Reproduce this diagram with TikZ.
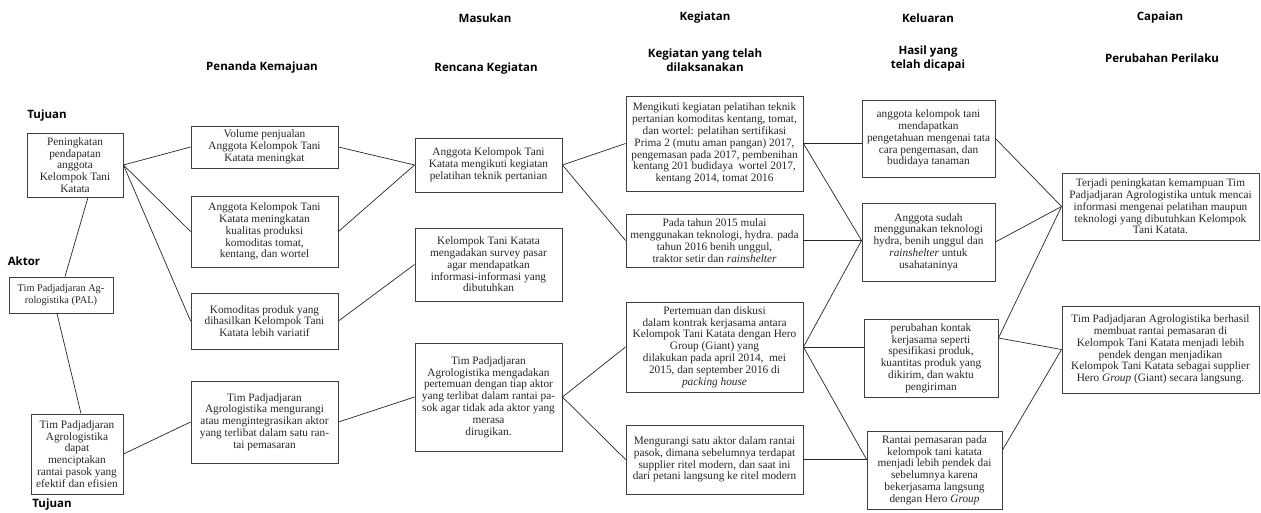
\documentclass[tikz,border=0pt]{standalone}
\usepackage{fontspec}
\setmainfont{Liberation Serif}
\newfontfamily\headfont{Open Sans}
\usetikzlibrary{calc}

\begin{document}
\begin{tikzpicture}[x=1pt,y=-1pt,
    box/.style 2 args={draw=black!75,line width=0.9pt,inner sep=1pt,align=center,
        text=black!85,minimum width=#1,minimum height=#2,
        font=\fontsize{11.3}{11.8}\selectfont},
    head/.style={align=center,font=\headfont\bfseries\fontsize{11.5}{14}\selectfont},
    link/.style={black!85,line width=0.7pt}]
    \useasboundingbox (0,0) rectangle (1261,512);
    % judul kolom
    \node[head] (masukan) at (485,18) {Masukan};
    \node[head] (kegiatan) at (705,18) {Kegiatan};
    \node[head] (keluaran) at (928,18) {Keluaran};
    \node[head] (capaian) at (1160,18) {Capaian};
    \node[head] (penanda) at (262,68) {Penanda Kemajuan};
    \node[head] (rencana) at (486,69) {Rencana Kegiatan};
    \node[head] (laksana) at (705,60) {Kegiatan yang telah\\dilaksanakan};
    \node[head] (hasil) at (928,59) {Hasil yang\\telah dicapai};
    \node[head] (perilaku) at (1162,58) {Perubahan Perilaku};
    \node[head] (tujuanA) at (47,116) {Tujuan};
    \node[head] (aktor) at (24,261) {Aktor};
    \node[head] (tujuanB) at (52,505) {Tujuan};
    % tujuan dan aktor
    \node[box={96pt}{64pt}] (pen) at (75,165)
        {Peningkatan\\pendapatan\\anggota\\Kelompok Tani\\Katata};
    \node[box={104pt}{36pt},font=\fontsize{10.3}{11.5}\selectfont] (pal) at (61,295)
        {Tim Padjadjaran Ag-\\rologistika (PAL)};
    \node[box={92pt}{80pt}] (rpk) at (77,454)
        {Tim Padjadjaran\\Agrologistika\\dapat\\menciptakan\\rantai pasok yang\\efektif dan efisien};
    % penanda kemajuan
    \node[box={147pt}{42pt}] (vol) at (264.5,147)
        {Volume penjualan\\Anggota Kelompok Tani\\Katata meningkat};
    \node[box={147pt}{71pt}] (kual) at (264.5,231.5)
        {Anggota Kelompok Tani\\Katata meningkatan\\kualitas produksi\\komoditas tomat,\\kentang, dan wortel};
    \node[box={147pt}{56pt}] (ragam) at (264.5,321)
        {Komoditas produk yang\\dihasilkan Kelompok Tani\\Katata lebih variatif};
    \node[box={147pt}{82pt}] (integ) at (264.5,422)
        {Tim Padjadjaran\\Agrologistika mengurangi\\atau mengintegrasikan aktor\\yang terlibat dalam satu ran-\\tai pemasaran};
    % rencana kegiatan
    \node[box={147pt}{54pt}] (latih) at (488.5,165)
        {Anggota Kelompok Tani\\Katata mengikuti kegiatan\\pelatihan teknik pertanian};
    \node[box={147pt}{73pt}] (survei) at (488.5,264.5)
        {Kelompok Tani Katata\\mengadakan survey pasar\\agar mendapatkan\\informasi-informasi yang\\dibutuhkan};
    \node[box={147pt}{108pt}] (temu) at (488.5,397)
        {Tim Padjadjaran\\Agrologistika mengadakan\\pertemuan dengan tiap aktor\\yang terlibat dalam rantai pa-\\sok agar tidak ada aktor yang\\merasa\\dirugikan.};
    % kegiatan yang telah dilaksanakan
    \node[box={177pt}{95pt}] (ikut) at (714.5,143.5)
        {Mengikuti kegiatan pelatihan teknik\\pertanian komoditas kentang, tomat,\\dan wortel: pelatihan sertifikasi\\Prima 2 (mutu aman pangan) 2017,\\pengemasan pada 2017, pembenihan\\kentang 201 budidaya\ \ wortel 2017,\\kentang 2014, tomat 2016};
    \node[box={177pt}{53pt}] (tekno) at (714.5,240.5)
        {Pada tahun 2015 mulai\\menggunakan teknologi, hydra. pada\\tahun 2016 benih unggul,\\traktor setir dan \textit{rainshelter}};
    \node[box={177pt}{90pt}] (diskusi) at (714.5,347)
        {Pertemuan dan diskusi\\dalam kontrak kerjasama antara\\Kelompok Tani Katata dengan Hero\\Group (Giant) yang\\dilakukan pada april 2014,\ \ mei\\2015, dan september 2016 di\\\textit{packing house}};
    \node[box={177pt}{69pt}] (satu) at (714.5,459.5)
        {Mengurangi satu aktor dalam rantai\\pasok, dimana sebelumnya terdapat\\supplier ritel modern, dan saat ini\\dari petani langsung ke ritel modern};
    % hasil yang telah dicapai
    \node[box={133pt}{77pt}] (tahu) at (928.5,138.5)
        {anggota kelompok tani\\mendapatkan\\pengetahuan mengenai tata\\cara pengemasan, dan\\budidaya tanaman};
    \node[box={133pt}{78pt}] (sudah) at (928.5,242)
        {Anggota sudah\\menggunakan teknologi\\hydra, benih unggul dan\\\textit{rainshelter} untuk\\usahataninya};
    \node[box={134pt}{78pt}] (kontrak) at (931,358)
        {perubahan kontak\\kerjasama seperti\\spesifikasi produk,\\kuantitas produk yang\\dikirim, dan waktu\\pengiriman};
    \node[box={135pt}{78pt}] (pendek) at (934.5,470)
        {Rantai pemasaran pada\\kelompok tani katata\\menjadi lebih pendek dai\\sebelumnya karena\\bekerjasama langsung\\dengan Hero \textit{Group}};
    % perubahan perilaku
    \node[box={197pt}{67pt}] (mampu) at (1160.5,206.5)
        {Terjadi peningkatan kemampuan Tim\\Padjadjaran Agrologistika untuk mencai\\informasi mengenai pelatihan maupun\\teknologi yang dibutuhkan Kelompok\\Tani Katata.};
    \node[box={197pt}{87pt}] (berhasil) at (1160.5,349.5)
        {Tim Padjadjaran Agrologistika berhasil\\membuat rantai pemasaran di\\Kelompok Tani Katata menjadi lebih\\pendek dengan menjadikan\\Kelompok Tani Katata sebagai supplier\\Hero \textit{Group} (Giant) secara langsung.};
    % titik temu garis
    \coordinate (tahuin) at (ikut.east -| tahu.west);
    \coordinate (sudahin) at (tekno.east -| sudah.west);
    \coordinate (kontrakin) at (diskusi.east -| kontrak.west);
    \coordinate (pendekin) at (satu.east -| pendek.west);
    \coordinate (kontrakout) at ([yshift=20pt]kontrak.east);
    \coordinate (pendekout) at ([yshift=20pt]pendek.east);
    % garis penghubung
    \draw[link] ([xshift=13pt]pen.south) -- ([xshift=4pt]pal.north);
    \draw[link] ([xshift=-4pt]pal.south) -- ([xshift=4pt]rpk.north);
    \foreach \a/\b in {pen/vol,pen/kual,pen/ragam,rpk/integ,vol/latih,kual/latih,
            ragam/survei,integ/temu,latih/ikut,latih/tekno,temu/diskusi,temu/satu,
            tahu/mampu,sudah/mampu}
        \draw[link] (\a.east) -- (\b.west);
    \draw[link] (ikut.east) -- (tahuin);
    \foreach \a in {ikut,tekno,diskusi}
        \draw[link] (\a.east) -- (sudahin);
    \draw[link] (diskusi.east) -- (kontrakin);
    \foreach \a in {diskusi,satu}
        \draw[link] (\a.east) -- (pendekin);
    \draw[link] (kontrakout) -- (mampu.west);
    \draw[link] (kontrakout) -- (berhasil.west);
    \draw[link] (pendekout) -- (berhasil.west);
\end{tikzpicture}
\end{document}
